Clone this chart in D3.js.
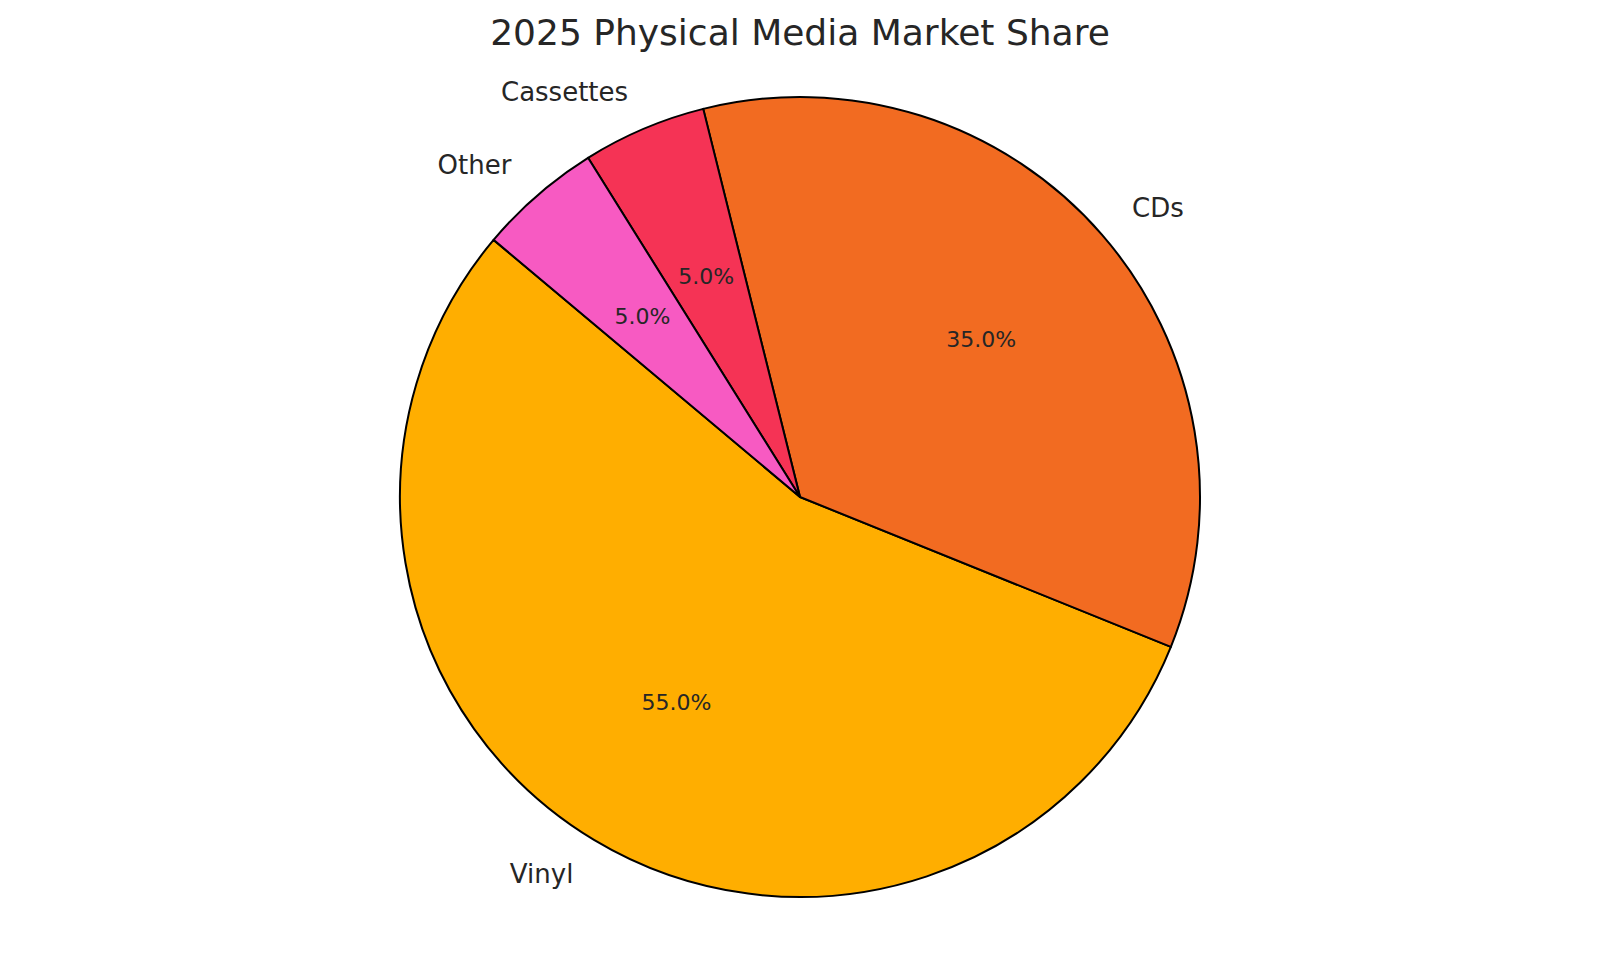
<!DOCTYPE html>
<html><head><meta charset="utf-8">
<script src="https://cdn.jsdelivr.net/npm/d3@7"></script>
<style>body{margin:0;background:#fff}svg{display:block}</style>
</head><body>
<svg id="c" width="1600" height="954"></svg>
<script>
const categories = ["Vinyl","CDs","Cassettes","Other"];
const shares = [55,35,5,5];
const colors = ["#FFAE00","#F26B21","#F53355","#F75AC2"];
const title = "2025 Physical Media Market Share";

const svg = d3.select("#c");
const cx = 800, cy = 497, R = 400;
const font = "DejaVu Sans, sans-serif";
const start = 140;
const toD3 = deg => (90 - deg) * Math.PI / 180;

const data = categories.map((c,i)=>({c, v:shares[i], col:colors[i]}));
const pie = d3.pie().value(d=>d.v).sort(null)
  .startAngle(toD3(start)).endAngle(toD3(start+360));
const arcs = pie(data);
const arc = d3.arc().innerRadius(0).outerRadius(R);
const g = svg.append("g").attr("transform",`translate(${cx},${cy})`);
g.selectAll("path").data(arcs).join("path")
  .attr("d",arc).attr("fill",d=>d.data.col)
  .attr("stroke","#000").attr("stroke-width",2).attr("stroke-linejoin","round");

const pos = (d,f) => { const a=(d.startAngle+d.endAngle)/2; return [Math.sin(a)*R*f, -Math.cos(a)*R*f]; };
const total = d3.sum(shares);
arcs.forEach(d=>{
  const [lx,ly]=pos(d,1.1);
  g.append("text").attr("x",lx).attr("y",ly).attr("dy","0.35em")
    .attr("text-anchor", lx<0?"end":"start")
    .attr("font-family",font).attr("font-size",26).attr("fill","#262626").text(d.data.c);
  const [px,py]=pos(d,0.6);
  g.append("text").attr("x",px).attr("y",py).attr("dy","0.35em")
    .attr("text-anchor","middle")
    .attr("font-family",font).attr("font-size",22).attr("fill","#262626")
    .text((d.data.v/total*100).toFixed(1)+"%");
});
svg.append("text").attr("x",800).attr("y",32).attr("dy","0.35em").attr("text-anchor","middle")
  .attr("font-family",font).attr("font-size",36).attr("fill","#262626").text(title);
</script>
</body></html>
